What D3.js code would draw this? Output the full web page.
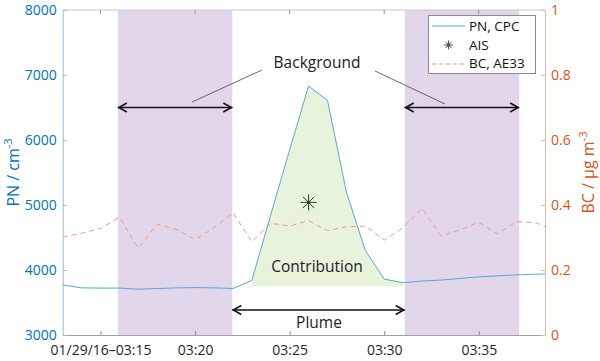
<!DOCTYPE html>
<html>
<head>
<meta charset="utf-8">
<script src="https://cdn.jsdelivr.net/npm/d3@7"></script>
<style>
  body { margin: 0; background: #fff; }
  svg text { font-family: "Open Sans", sans-serif; }
</style>
</head>
<body>
<svg id="chart" width="600" height="361"></svg>
<script>
// Data
const pnTimes = ["03:13", "03:14", "03:15", "03:16", "03:17", "03:18", "03:19", "03:20", "03:21",
    "03:22", "03:23", "03:24", "03:25", "03:26", "03:27", "03:28", "03:29", "03:30", "03:31",
    "03:32", "03:33", "03:34", "03:35", "03:36", "03:37", "03:38", "03:38:30"];
const pnValues = [3770, 3725, 3722, 3722, 3705, 3715, 3725, 3730, 3725,
    3715, 3840, 4850, 5850, 6830, 6610, 5200, 4300, 3860, 3805,
    3830, 3845, 3870, 3895, 3910, 3925, 3935, 3940];
const bcValues = [0.302, 0.313, 0.328, 0.362, 0.267, 0.341, 0.325, 0.294, 0.33,
    0.376, 0.287, 0.344, 0.335, 0.352, 0.321, 0.333, 0.335, 0.292, 0.33,
    0.39, 0.305, 0.323, 0.347, 0.311, 0.349, 0.346, 0.333];

const aisTime = "03:26";
const aisValue = 5040;

// background windows and plume contribution
const backgroundWindows = [["03:15:55", "03:21:58"], ["03:31:05", "03:37:08"]];
const plumeStart = "03:23", plumeEnd = "03:31";
const contributionBase = 3750;

const timeDomain = ["03:13", "03:38:30"];
const tickTimes = ["03:15", "03:20", "03:25", "03:30", "03:35"];
const pnTicks = [3000, 4000, 5000, 6000, 7000, 8000];
const bcTicks = [0, 0.2, 0.4, 0.6, 0.8, 1];

const toDate = s => {
    const p = s.split(":").map(Number);
    return new Date(2016, 0, 29, p[0], p[1], p[2] || 0);
};

const svg = d3.select("#chart");
const plotLeft = 62.7, plotRight = 545, plotTop = 10, plotBottom = 335;

const x = d3.scaleTime().domain(timeDomain.map(toDate)).range([plotLeft, plotRight]);
const yPN = d3.scaleLinear().domain([3000, 8000]).range([plotBottom, plotTop]);
const yBC = d3.scaleLinear().domain([0, 1]).range([plotBottom, plotTop]);

const blueText = "#0072BD", blueAxis = "#8cc0e6";
const orangeText = "#D95319", orangeAxis = "#f0b8a2";

const pn = pnTimes.map((t, i) => ({ t: toDate(t), v: pnValues[i] }));
const bc = pnTimes.map((t, i) => ({ t: toDate(t), v: bcValues[i] }));

// Shaded background windows
svg.selectAll(".bg-window")
    .data(backgroundWindows)
    .enter()
    .append("rect")
    .attr("class", "bg-window")
    .attr("x", d => x(toDate(d[0])))
    .attr("y", plotTop)
    .attr("width", d => x(toDate(d[1])) - x(toDate(d[0])))
    .attr("height", plotBottom - plotTop)
    .attr("fill", "#e2d6eb");

// Contribution area
const plume = pn.filter(d => d.t >= toDate(plumeStart) && d.t <= toDate(plumeEnd));
svg.append("path")
    .datum(plume)
    .attr("fill", "#e7f3da")
    .attr("d", d3.area()
        .x(d => x(d.t))
        .y0(yPN(contributionBase))
        .y1(d => yPN(d.v)));

// Box: top line and bottom axis
svg.append("line")
    .attr("x1", plotLeft).attr("x2", plotRight).attr("y1", plotTop).attr("y2", plotTop)
    .attr("stroke", "#c8c8c8");

const xAxis = svg.append("g")
    .attr("transform", `translate(0,${plotBottom})`)
    .call(d3.axisBottom(x)
        .tickValues(tickTimes.map(toDate))
        .tickSizeInner(-4).tickSizeOuter(0)
        .tickPadding(10)
        .tickFormat((d, i) => (i === 0 ? "01/29/16\u201303:15" : d3.timeFormat("%H:%M")(d))));
xAxis.select(".domain").attr("stroke", "#a0a0a0");
xAxis.selectAll(".tick line").attr("stroke", "#909090");
xAxis.selectAll("text").attr("font-size", "14px").attr("fill", "#262626");

// top ticks
svg.selectAll(".top-tick")
    .data(tickTimes)
    .enter()
    .append("line")
    .attr("x1", d => x(toDate(d))).attr("x2", d => x(toDate(d)))
    .attr("y1", plotTop).attr("y2", plotTop + 4)
    .attr("stroke", "#909090");

// Left axis
const yAxisL = svg.append("g")
    .attr("transform", `translate(${plotLeft},0)`)
    .call(d3.axisLeft(yPN).tickValues(pnTicks).tickSizeInner(-4).tickSizeOuter(0).tickPadding(6)
        .tickFormat(d3.format("d")));
yAxisL.select(".domain").attr("stroke", blueAxis);
yAxisL.selectAll(".tick line").attr("stroke", blueAxis);
yAxisL.selectAll("text").attr("font-size", "14px").attr("fill", blueText);

// Right axis
const yAxisR = svg.append("g")
    .attr("transform", `translate(${plotRight},0)`)
    .call(d3.axisRight(yBC).tickValues(bcTicks).tickSizeInner(-4).tickSizeOuter(0).tickPadding(6)
        .tickFormat(d3.format("")));
yAxisR.select(".domain").attr("stroke", orangeAxis);
yAxisR.selectAll(".tick line").attr("stroke", orangeAxis);
yAxisR.selectAll("text").attr("font-size", "14px").attr("fill", orangeText);

// Axis labels
const pnLabel = svg.append("text")
    .attr("transform", `translate(19,${(plotTop + plotBottom) / 2}) rotate(-90)`)
    .attr("text-anchor", "middle")
    .attr("font-size", "16px")
    .attr("fill", blueText);
pnLabel.append("tspan").text("PN / cm");
pnLabel.append("tspan").attr("dy", -7).attr("font-size", "11px").text("-3");

const bcLabel = svg.append("text")
    .attr("transform", `translate(594,${(plotTop + plotBottom) / 2}) rotate(-90)`)
    .attr("text-anchor", "middle")
    .attr("font-size", "16px")
    .attr("fill", orangeText);
bcLabel.append("tspan").text("BC / \u03BCg m");
bcLabel.append("tspan").attr("dy", -7).attr("font-size", "11px").text("-3");

// BC line (dashed)
svg.append("path")
    .datum(bc)
    .attr("fill", "none")
    .attr("stroke", "#ec9c80")
    .attr("stroke-width", 1)
    .attr("stroke-dasharray", "5,4")
    .attr("d", d3.line().x(d => x(d.t)).y(d => yBC(d.v)));

// PN line
svg.append("path")
    .datum(pn)
    .attr("fill", "none")
    .attr("stroke", "#5aa6dc")
    .attr("stroke-width", 1)
    .attr("d", d3.line().x(d => x(d.t)).y(d => yPN(d.v)));

// Asterisk marker
function star(g, cx, cy, r, color) {
    const d = r * Math.SQRT1_2;
    g.append("path")
        .attr("d", `M${cx - r},${cy}H${cx + r}M${cx},${cy - r}V${cy + r}` +
            `M${cx - d},${cy - d}L${cx + d},${cy + d}M${cx - d},${cy + d}L${cx + d},${cy - d}`)
        .attr("stroke", color)
        .attr("stroke-width", 1);
    g.append("rect")
        .attr("x", cx - 1.5).attr("y", cy - 1.5).attr("width", 3).attr("height", 3)
        .attr("fill", color);
}
star(svg, x(toDate(aisTime)), yPN(aisValue), 8, "#2f3a2f");

// Double arrows
function doubleArrow(x1, x2, y) {
    const g = svg.append("g").attr("stroke", "#111").attr("fill", "none").attr("stroke-width", 1.6);
    g.append("line").attr("x1", x1).attr("x2", x2).attr("y1", y).attr("y2", y);
    g.append("path").attr("d", `M${x1 + 9},${y - 4.5}L${x1 + 1},${y}L${x1 + 9},${y + 4.5}`);
    g.append("path").attr("d", `M${x2 - 9},${y - 4.5}L${x2 - 1},${y}L${x2 - 9},${y + 4.5}`);
}
const arrowPN = 6500, plumeArrowPN = 3385;
backgroundWindows.forEach(w => doubleArrow(x(toDate(w[0])), x(toDate(w[1])), yPN(arrowPN)));
doubleArrow(x(toDate(backgroundWindows[0][1])), x(toDate(backgroundWindows[1][0])), yPN(plumeArrowPN));

// Annotations
svg.append("text")
    .attr("x", 317).attr("y", 68)
    .attr("text-anchor", "middle").attr("font-size", "15.5px").attr("fill", "#222")
    .text("Background");
svg.append("line").attr("x1", 262).attr("y1", 70).attr("x2", 192).attr("y2", 102)
    .attr("stroke", "#444").attr("stroke-width", 0.8);
svg.append("line").attr("x1", 375).attr("y1", 71).attr("x2", 445).attr("y2", 104)
    .attr("stroke", "#444").attr("stroke-width", 0.8);
svg.append("text")
    .attr("x", 317).attr("y", 272)
    .attr("text-anchor", "middle").attr("font-size", "15.5px").attr("fill", "#222")
    .text("Contribution");
svg.append("text")
    .attr("x", 319).attr("y", 328)
    .attr("text-anchor", "middle").attr("font-size", "15.5px").attr("fill", "#222")
    .text("Plume");

// Legend
const lg = svg.append("g");
lg.append("rect")
    .attr("x", 428.5).attr("y", 15.5).attr("width", 107).attr("height", 58)
    .attr("fill", "#fff").attr("stroke", "#8a8a8a");
lg.append("line").attr("x1", 432).attr("x2", 465).attr("y1", 26).attr("y2", 26)
    .attr("stroke", "#5aa6dc");
star(lg, 448.5, 45, 4.5, "#555");
lg.append("line").attr("x1", 432).attr("x2", 465).attr("y1", 64).attr("y2", 64)
    .attr("stroke", "#ec9c80").attr("stroke-dasharray", "4,3");
const legendLabels = ["PN, CPC", "AIS", "BC, AE33"];
lg.selectAll(".lg-text")
    .data(legendLabels)
    .enter()
    .append("text")
    .attr("class", "lg-text")
    .attr("x", 469)
    .attr("y", (d, i) => 31 + i * 18.7)
    .attr("font-size", "13.5px")
    .attr("fill", "#111")
    .text(d => d);
</script>
</body>
</html>
